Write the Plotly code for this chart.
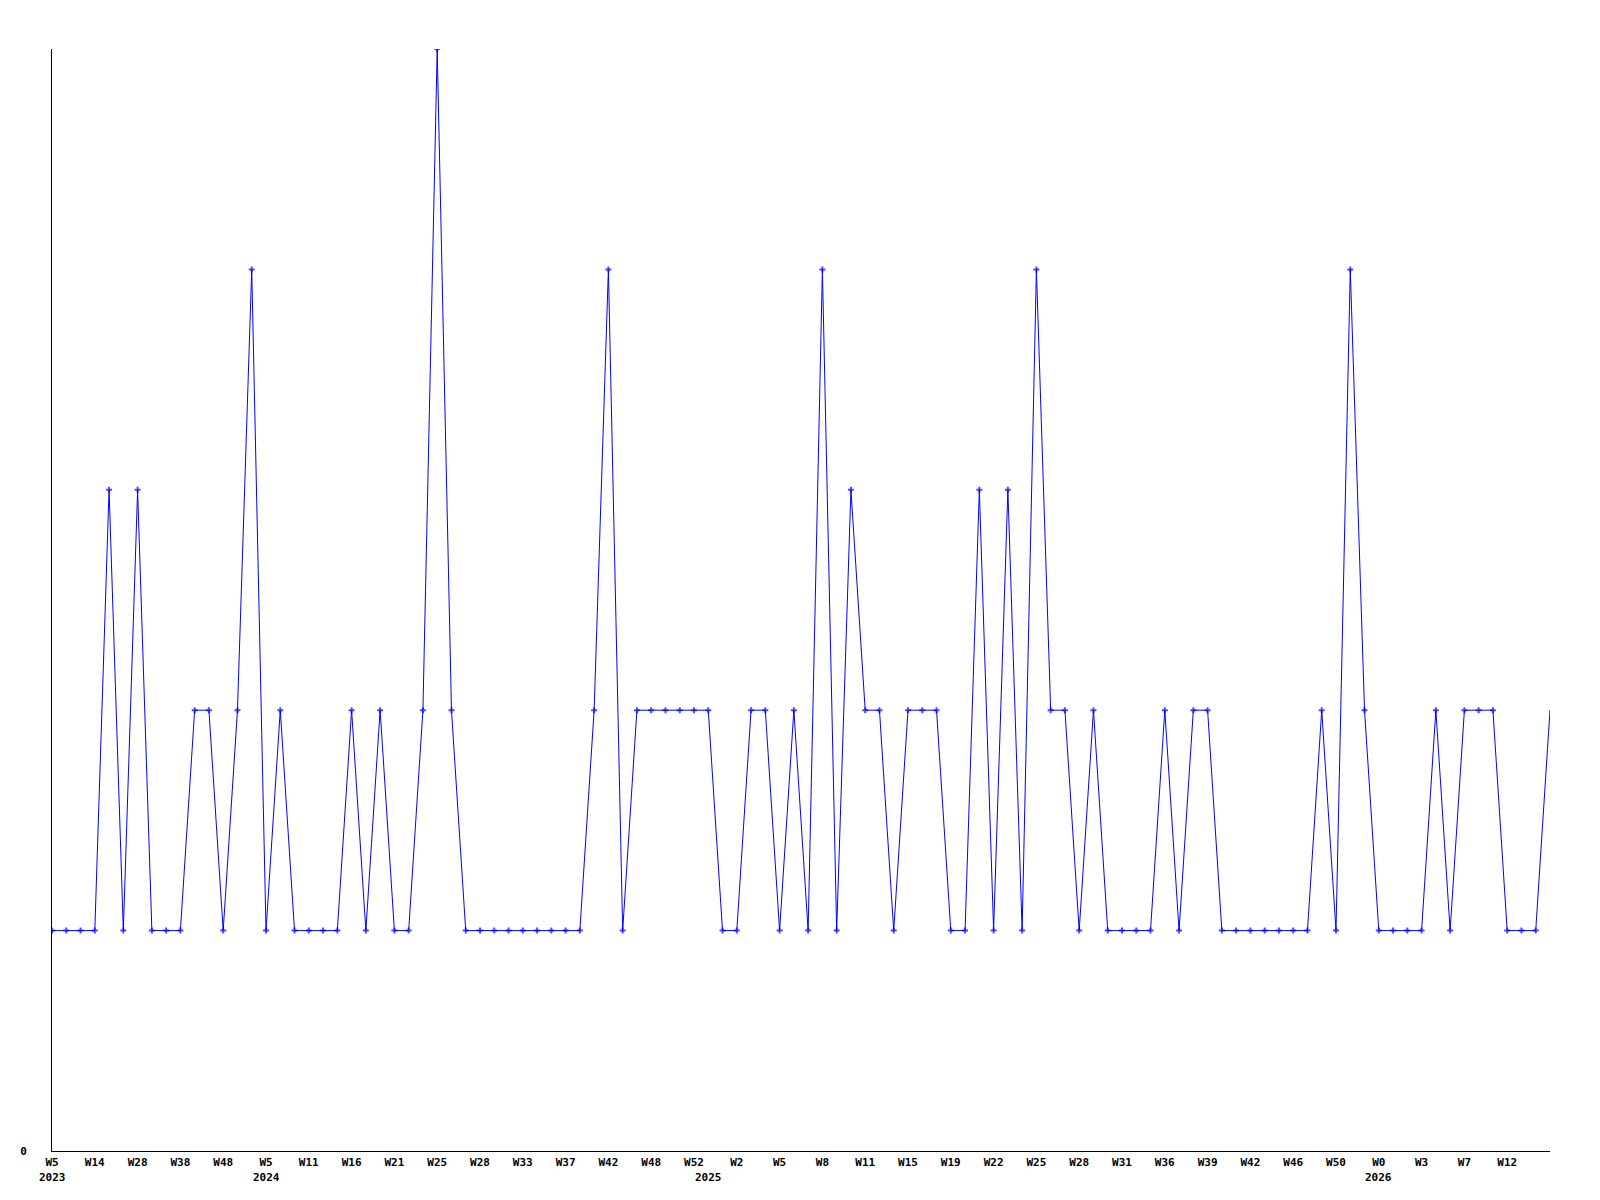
import numpy as np
import plotly.graph_objects as go

# Weekly counts (one point per sample, left to right)
values = [
    1, 1, 1, 1, 3, 1, 3, 1, 1, 1,
    2, 2, 1, 2, 4, 1, 2, 1, 1, 1,
    1, 2, 1, 2, 1, 1, 2, 5, 2, 1,
    1, 1, 1, 1, 1, 1, 1, 1, 2, 4,
    1, 2, 2, 2, 2, 2, 2, 1, 1, 2,
    2, 1, 2, 1, 4, 1, 3, 2, 2, 1,
    2, 2, 2, 1, 1, 3, 1, 3, 1, 4,
    2, 2, 1, 2, 1, 1, 1, 1, 2, 1,
    2, 2, 1, 1, 1, 1, 1, 1, 1, 2,
    1, 4, 2, 1, 1, 1, 1, 2, 1, 2,
    2, 2, 1, 1, 1, 2,
]

# Week labels, one every third point
week_labels = [
    "W5", "W14", "W28", "W38", "W48", "W5", "W11", "W16", "W21", "W25",
    "W28", "W33", "W37", "W42", "W48", "W52", "W2", "W5", "W8", "W11",
    "W15", "W19", "W22", "W25", "W28", "W31", "W36", "W39", "W42", "W46",
    "W50", "W0", "W3", "W7", "W12",
]
tick_step = 3

# Year labels and the point index they sit under
years = ["2023", "2024", "2025", "2026"]
year_index = [0, 15, 46, 93]

FONT = dict(family="DejaVu Sans Mono", size=11, color="black", weight="bold")

x = np.arange(len(values))
tick_pos = x[::tick_step][: len(week_labels)]

# no marker on the last point (line runs to the edge)
marker_sizes = [5] * (len(values) - 1) + [0]

fig = go.Figure()

fig.add_trace(
    go.Scatter(
        x=x,
        y=values,
        mode="lines+markers",
        line=dict(color="#0000ff", width=1),
        marker=dict(symbol="cross", size=marker_sizes, color="#0000ff", line=dict(width=0)),
        showlegend=False,
        hoverinfo="skip",
    )
)

for label, idx in zip(years, year_index):
    fig.add_annotation(
        x=idx,
        y=0,
        xref="x",
        yref="paper",
        text=label,
        showarrow=False,
        yanchor="top",
        yshift=-18,
        font=FONT,
    )

# page body has an 8px margin, so the plot box is shifted back by that
fig.update_layout(
    width=1600,
    height=1200,
    margin=dict(l=42, r=58, t=41, b=57),
    paper_bgcolor="white",
    plot_bgcolor="white",
    xaxis=dict(
        range=[0, len(values) - 1],
        tickvals=tick_pos,
        ticktext=week_labels,
        tickfont=FONT,
        showgrid=False,
        zeroline=False,
        showline=True,
        linecolor="black",
        linewidth=1,
        ticks="",
        ticklabelstandoff=1,
    ),
    yaxis=dict(
        range=[0, 5],
        tickvals=[0],
        ticktext=["0"],
        tickfont=FONT,
        showgrid=False,
        zeroline=False,
        showline=True,
        linecolor="black",
        linewidth=1,
        ticks="",
        ticklabelstandoff=22,
    ),
)

fig.write_html("out.html")
